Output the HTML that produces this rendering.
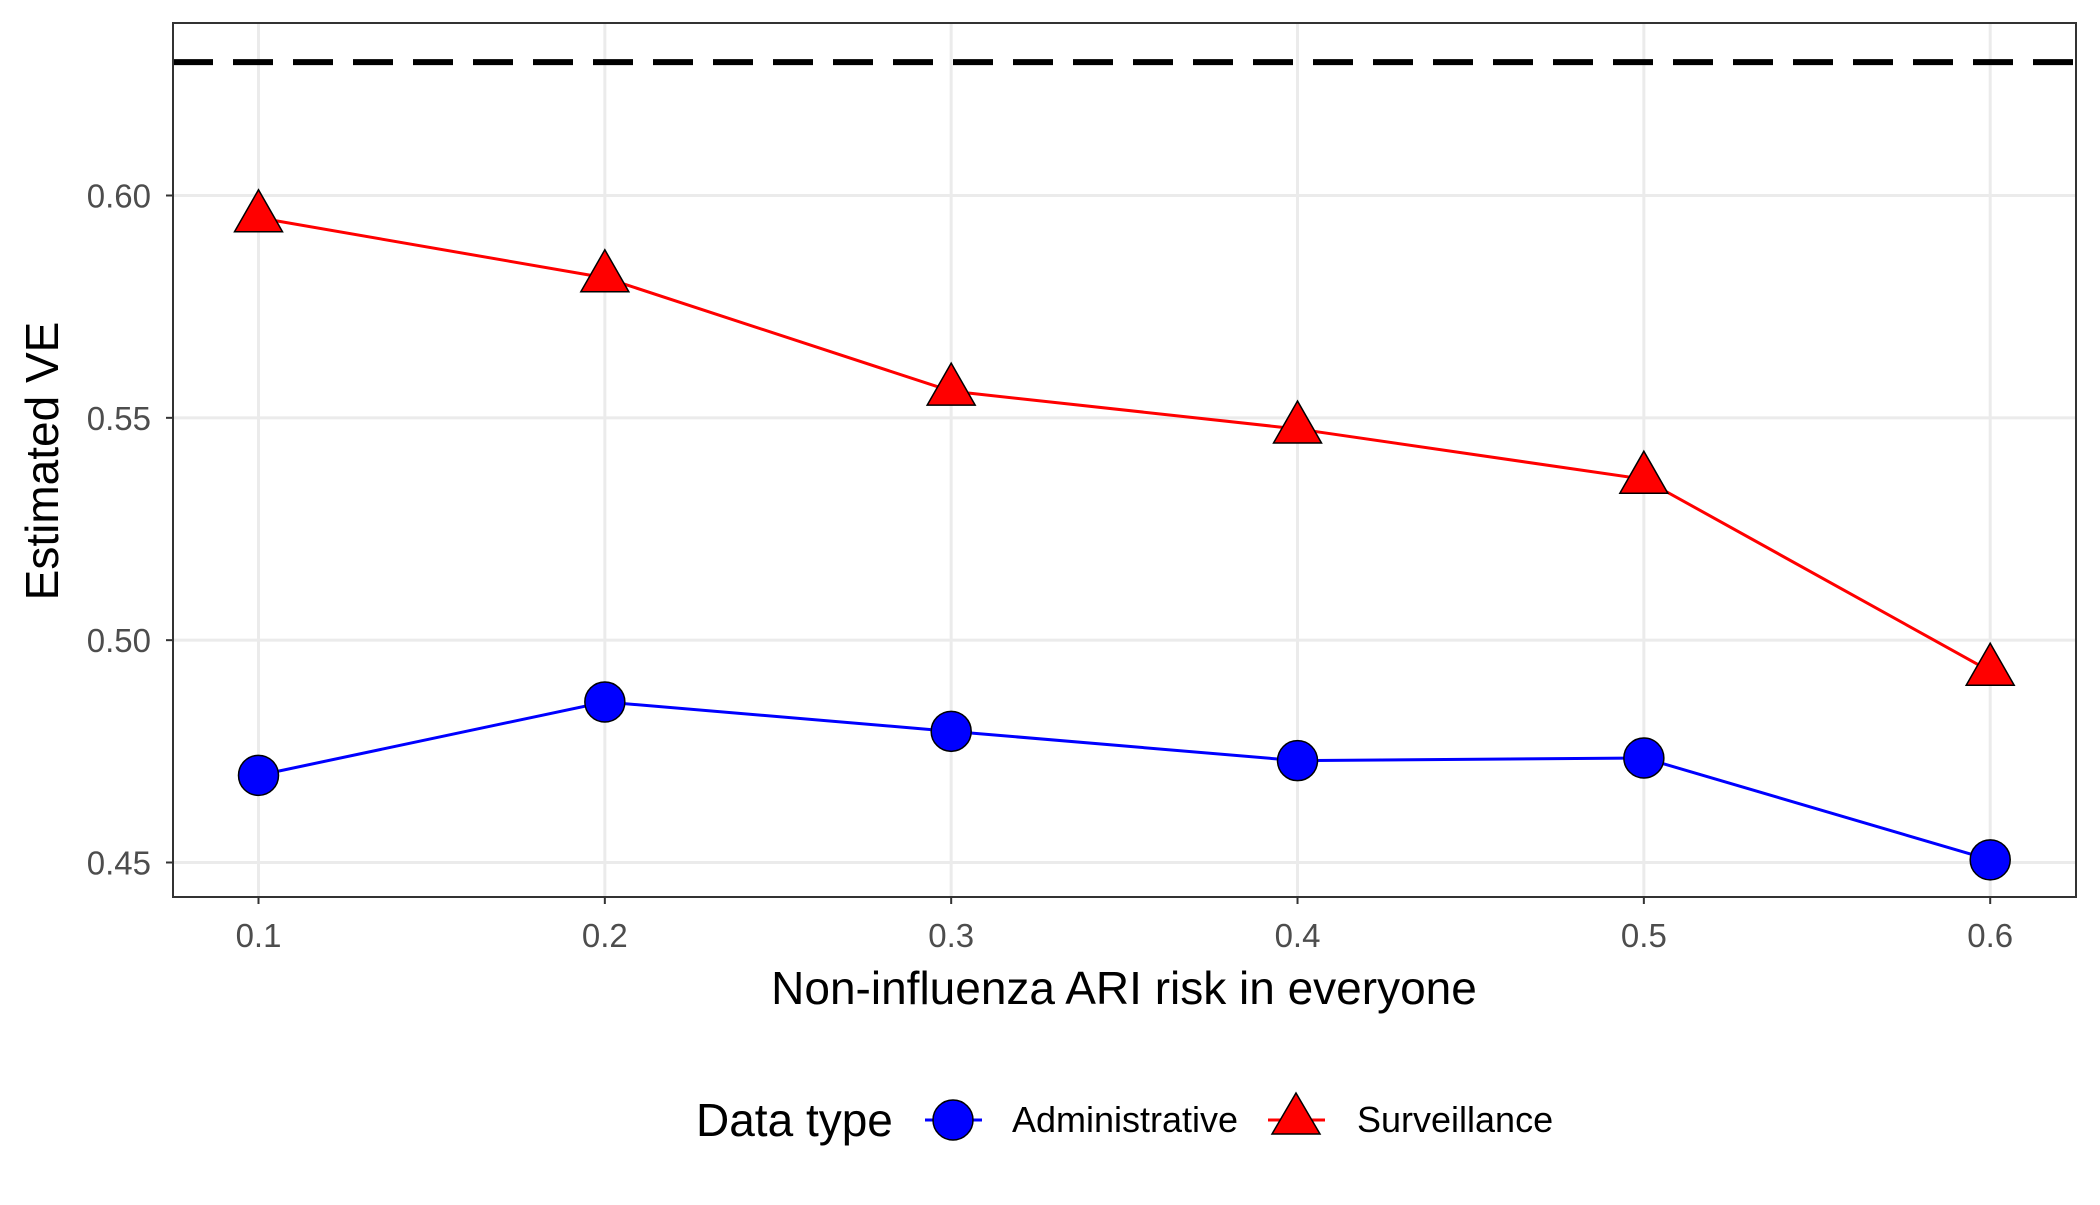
<!DOCTYPE html>
<html><head><meta charset="utf-8"><style>
html,body{margin:0;padding:0;background:#fff;}
svg text{font-family:"Liberation Sans",Arial,sans-serif;}
</style></head><body>
<svg id="chart" width="2100" height="1200" xmlns="http://www.w3.org/2000/svg">
<rect x="0" y="0" width="2100" height="1200" fill="#fff"/>
<g id="grid"></g>
<g id="marks"></g>
<rect x="173" y="23" width="1903" height="874" fill="none" stroke="#333" stroke-width="2"/>
<g id="axes"></g>
<text x="1124" y="1004" font-size="46" text-anchor="middle" fill="#000">Non-influenza ARI risk in everyone</text>
<text x="0" y="0" font-size="46" text-anchor="middle" fill="#000" transform="translate(58,461) rotate(-90)">Estimated VE</text>
<g>
<text x="696" y="1136" font-size="46" fill="#000">Data type</text>
<g>
<line x1="925" y1="1120" x2="982" y2="1120" stroke="#0000ff" stroke-width="3"/>
<circle cx="953" cy="1120" r="20" fill="#0000ff" stroke="#000" stroke-width="1.5"/>
<text x="1012" y="1132" font-size="36" fill="#000">Administrative</text>
</g>
<g>
<line x1="1268" y1="1120" x2="1325" y2="1120" stroke="#ff0000" stroke-width="3"/>
<polygon points="1296,1093 1320,1134 1272,1134" fill="#ff0000" stroke="#000" stroke-width="1.5"/>
<text x="1357" y="1132" font-size="36" fill="#000">Surveillance</text>
</g>
</g>
</svg>
<script>
const categories = [0.1, 0.2, 0.3, 0.4, 0.5, 0.6];
const administrative = [0.4696, 0.4861, 0.4795, 0.4729, 0.4735, 0.4506];
const surveillance = [0.5950, 0.5815, 0.5560, 0.5475, 0.5362, 0.4930];
const referenceVE = [0.630];
const xTicks = ["0.1","0.2","0.3","0.4","0.5","0.6"];
const yTicks = ["0.45","0.50","0.55","0.60"];

const NS = "http://www.w3.org/2000/svg";
function xs(v){ return 258.5 + (v - 0.1) * (1990.2 - 258.5) / 0.5; }
function ys(v){ return 862.5 - (v - 0.45) * (862.5 - 195.5) / 0.15; }
function mk(tag, attrs, parent){ const e=document.createElementNS(NS,tag); for(const k in attrs) e.setAttribute(k, attrs[k]); parent.appendChild(e); return e; }
const grid=document.getElementById('grid'), marks=document.getElementById('marks'), axes=document.getElementById('axes');
const L=173, R=2076, T=23, B=897;

yTicks.forEach(t=>{ const v=parseFloat(t), y=ys(v);
 const g=mk('line',{x1:L,x2:R,y1:y,y2:y,stroke:'#ebebeb','stroke-width':3},grid);
 
 
 mk('line',{x1:L-7,x2:L,y1:y,y2:y,stroke:'#333','stroke-width':2},axes);
 const tx=mk('text',{x:L-22,y:y+12,'font-size':33,'text-anchor':'end',fill:'#4d4d4d'},axes); tx.textContent=t;
 
  });
xTicks.forEach(t=>{ const v=parseFloat(t), x=xs(v);
 const g=mk('line',{x1:x,x2:x,y1:T,y2:B,stroke:'#ebebeb','stroke-width':3},grid);
 
 
 mk('line',{x1:x,x2:x,y1:B,y2:B+7,stroke:'#333','stroke-width':2},axes);
 const tx=mk('text',{x:x,y:B+50,'font-size':33,'text-anchor':'middle',fill:'#4d4d4d'},axes); tx.textContent=t;
 
  });

referenceVE.forEach(v=>{ const e=mk('line',{x1:L,x2:R,y1:ys(v),y2:ys(v),stroke:'#000','stroke-width':6,'stroke-dasharray':'40 20'},marks);

 });

function series(vals,color,name,shape){
 const pl=mk('polyline',{points:vals.map((v,i)=>xs(categories[i])+','+ys(v)).join(' '),fill:'none',stroke:color,'stroke-width':3},marks);
 
 
 vals.forEach((v,i)=>{ const x=xs(categories[i]), y=ys(v); let e;
  if(shape==='circle') e=mk('circle',{cx:x,cy:y,r:20,fill:color,stroke:'#000','stroke-width':1.5},marks);
  else e=mk('polygon',{points:`${x},${y-28} ${x+24},${y+14} ${x-24},${y+14}`,fill:color,stroke:'#000','stroke-width':1.5},marks);
  
   });
}
series(administrative,'#0000ff','administrative','circle');
series(surveillance,'#ff0000','surveillance','triangle');
</script>
</body></html>
